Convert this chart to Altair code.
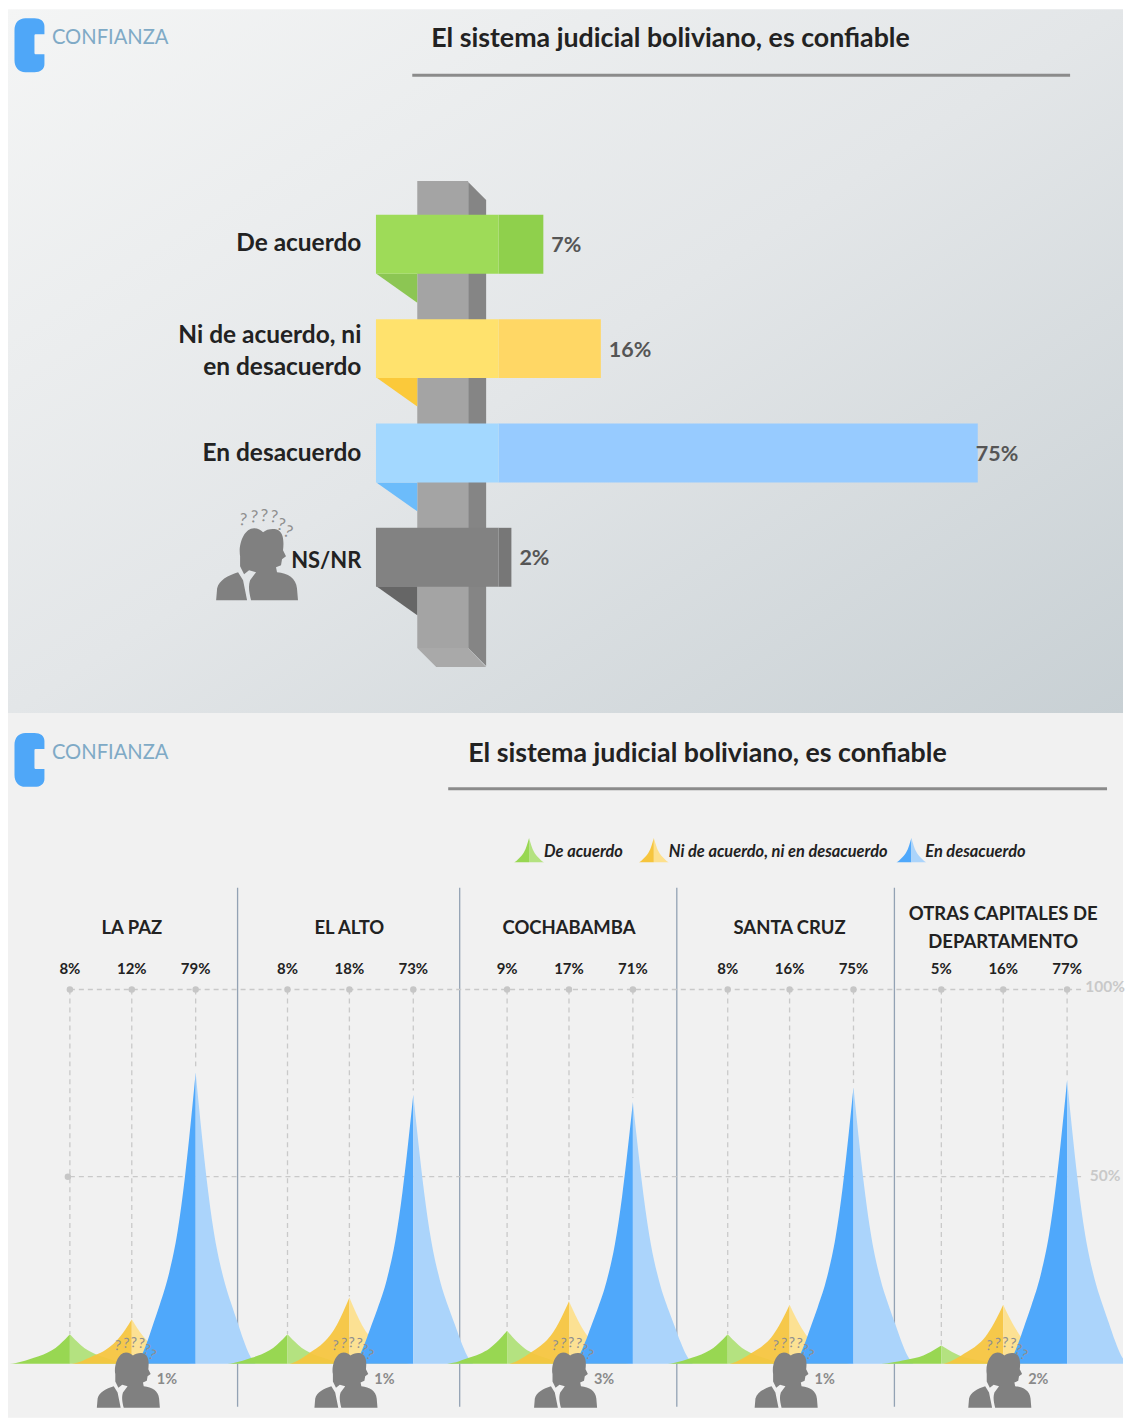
import altair as alt
import pandas as pd

# ---------- values ----------
categories = ["De acuerdo", "Ni de acuerdo, ni\nen desacuerdo", "En desacuerdo", "NS/NR"]
national = [7, 16, 75, 2]
cities = ["LA PAZ", "EL ALTO", "COCHABAMBA", "SANTA CRUZ", "OTRAS CAPITALES DE\nDEPARTAMENTO"]
agree = [8, 8, 9, 8, 5]
neutral = [12, 18, 17, 16, 16]
disagree = [79, 73, 71, 75, 77]
no_answer = [1, 1, 3, 1, 2]
title_text = "El sistema judicial boliviano, es confiable"
legend_names = ["De acuerdo", "Ni de acuerdo, ni en desacuerdo", "En desacuerdo"]

# ---------- layout & style ----------
W, H1, H2 = 1117, 705, 706
FONT = "Lato"
light_top = ["#9edb58", "#ffe26d", "#a3d8ff", "#828282"]
dark_top = ["#8fd04c", "#ffd765", "#97cbff", "#777777"]
tri_top = ["#8cc653", "#fbc93a", "#6cbcfb", "#666666"]
spike_dark = ["#98d752", "#f6c53d", "#4fa8fb"]
spike_light = ["#b4e280", "#fde08c", "#abd4fb"]
spike_opacity = [1, 0.93, 1]
city_centres = [124, 342, 562, 783, 997]
peak_shift = [-62, 0, 64]
dividers = [230, 452.5, 670, 888]
label_gap = [8, 8, -2, 8]
label_dy = [0, -13, 1, 4]
label_size = [24.5, 24.5, 24.5, 22]
# shape of a peak: distance from the tip (share of half-width) -> share of the peak height
prof_d = [0, 0.055, 0.11, 0.18, 0.30, 0.44, 0.60, 0.70, 0.80, 0.90, 1.0]
prof_h = [0.985, 0.87, 0.76, 0.63, 0.45, 0.31, 0.20, 0.14, 0.08, 0.03, 0]
HALF = 60

LOGO = ("M11,0 L20,0 C26,0 30,3 30,8 L30,16 L21,16 C20,16 20,17 20,18 L20,34 C20,35 20,36 21,36 "
        "L30,36 L30,46 C30,51 26,54 20,54 L11,54 C4,54 0,49 0,42 L0,12 C0,5 4,0 11,0 Z")
PERSON = ("M24,-44 C22,-56 28,-72 38,-72 C42,-72 45,-70 47,-68 C50,-71 56,-72 60,-71 C68,-69 68,-58 67,-50 "
          "L70,-44 L66,-41 L65,-35 L60,-33 L61,-28 C72,-27 80,-22 81,-12 L82,0 L35,0 C33,-8 32,-14 34,-20 "
          "L40,-28 L33,-30 L28,-26 L24,-34 Z M0,0 L1,-12 C3,-20 12,-25 22,-28 L27,-20 L31,0 Z")
Q_MARKS = pd.DataFrame({"q": ["?"] * 6,
                        "dx": [27, 38, 48, 58, 65, 72],
                        "dy": [-80, -83, -84, -83, -75, -68],
                        "a": [8, 6, 4, 8, 16, 24]})


def shape(path, x, y, color, scale=1.0, **kw):
    return alt.Chart(pd.DataFrame({"k": [0]})).mark_point(
        shape=path, size=(2 * scale) ** 2, filled=True, fill=color, stroke=None, opacity=1, **kw
    ).encode(x=alt.value(x), y=alt.value(y))


def txt(x, y, s, size, color="#222222", weight="bold", align="left", style="normal"):
    return alt.Chart(pd.DataFrame({"t": [s]})).mark_text(
        font=FONT, fontSize=size, fontWeight=weight, fontStyle=style, color=color, align=align,
        baseline="middle"
    ).encode(x=alt.value(x), y=alt.value(y), text="t:N")


def rule(x1, x2, y, color, width):
    return alt.Chart(pd.DataFrame({"k": [0]})).mark_rule(color=color, strokeWidth=width).encode(
        x=alt.value(x1), x2=alt.value(x2), y=alt.value(y))


def header(tx, ty, rx1, rx2, ry, ly, ty_logo):
    return [
        shape(LOGO, 6.5, ty_logo, "#4fa7f8"),
        txt(44, ly, "CONFIANZA", 20.2, "#7faac6", "normal"),
        txt(tx, ty, title_text, 26.8),
        rule(rx1, rx2, ry, "#8b8b8b", 3),
    ]


def person(x, y, scale, qsize):
    qs = Q_MARKS.copy()
    qs["px"] = x + qs["dx"] * scale
    qs["py"] = y + qs["dy"] * scale
    return [
        shape(PERSON, x, y, "#808080", scale),
        alt.Chart(qs).mark_text(font=FONT, fontSize=qsize, color="#8f8f8f", fontWeight="normal").encode(
            x=alt.X("px:Q", scale=None), y=alt.Y("py:Q", scale=None),
            angle=alt.Angle("a:Q", scale=None), text="q:N"),
    ]


# ---------- top panel ----------
PX = 6.4
ZERO = 491.5
x_top = alt.Scale(domain=[-ZERO / PX, (W - ZERO) / PX], nice=False, zero=False)
y_top = alt.Scale(type="band", domain=categories, range=[183.25, 601.25], paddingInner=0.435, paddingOuter=0.2175)
bg = alt.Chart(pd.DataFrame({"k": [0]})).mark_rect(
    fill=alt.LinearGradient(gradient="linear", x1=0, y1=0, x2=1, y2=1,
                            stops=[alt.GradientStop(offset=0, color="#f4f5f5"),
                                   alt.GradientStop(offset=0.5, color="#e3e6e8"),
                                   alt.GradientStop(offset=1, color="#c8d0d4")])
).encode(x=alt.value(0), x2=alt.value(W), y=alt.value(0), y2=alt.value(H1))

top_layers = [bg] + header(424, 30, 405, 1064, 66, 29, 9)
top_layers += [
    shape("M461,173 L479,191 L479,658 L461,640 Z", 0, 0, "#858585"),
    shape("M410,172 L461,172 L461,640 L410,640 Z", 0, 0, "#a4a4a4"),
    shape("M410,640 L461,640 L479,659 L429,659 Z", 0, 0, "#a9a9a9"),
]
for i, yb in enumerate([265, 369, 474, 578]):
    top_layers.append(shape(f"M369,{yb} L410,{yb} L410,{yb + 29} Z", 0, 0, tri_top[i]))

df_top = pd.DataFrame({"cat": categories, "v": national, "start": -19.2, "zero": 0.0,
                       "light": light_top, "dark": dark_top, "gap": label_gap})
df_top["lx"] = df_top["v"] + df_top["gap"] / PX
df_top["lab"] = df_top["v"].astype(str) + "%"
Yt = alt.Y("cat:N", scale=y_top, axis=None, sort=None)
top_layers += [
    alt.Chart(df_top).mark_bar().encode(x=alt.X("v:Q", scale=x_top, axis=None), x2="zero:Q", y=Yt,
                                        color=alt.Color("dark:N", scale=None)),
    alt.Chart(df_top).mark_bar().encode(x=alt.X("start:Q", scale=x_top, axis=None), x2="zero:Q", y=Yt,
                                        color=alt.Color("light:N", scale=None)),
    alt.Chart(df_top).mark_text(font=FONT, fontSize=21.5, fontWeight="bold", color="#555555", align="left",
                                dy=2).encode(
        x=alt.X("lx:Q", scale=x_top, axis=None), y=Yt, text="lab:N"),
]
for i, c in enumerate(categories):
    top_layers.append(
        alt.Chart(df_top[df_top["cat"] == c]).mark_text(
            font=FONT, fontSize=label_size[i], fontWeight="bold", color="#222222", align="right",
            lineBreak="\n", lineHeight=32, dy=label_dy[i]
        ).encode(x=alt.value(354), y=Yt, text="cat:N"))
top_layers += person(208.5, 592, 1.0, 17)

top = alt.layer(*top_layers).properties(width=W, height=H1)

# ---------- bottom panel ----------
BASE = 652
PY = 3.75
x_bot = alt.Scale(domain=[0, W], nice=False, zero=False)
y_bot = alt.Scale(domain=[-(H2 - BASE) / PY, BASE / PY], nice=False, zero=False)
Xb = lambda f: alt.X(f, scale=x_bot, axis=None)
Yb = lambda f: alt.Y(f, scale=y_bot, axis=None, stack=None)


def spike(cx, value, half, color_l, color_r, opacity=1.0, base=0.0):
    layers = []
    for sign, col in [(-1, color_l), (1, color_r)]:
        d = pd.DataFrame({"px": [cx + sign * half * a for a in prof_d],
                          "h": [base + value * b for b in prof_h],
                          "b": [base] * len(prof_d)})
        layers.append(alt.Chart(d).mark_area(interpolate="monotone", color=col, opacity=opacity,
                                             clip=True).encode(
            x=Xb("px:Q"), y=Yb("h:Q"), y2="b:Q"))
    return layers


bg2 = alt.Chart(pd.DataFrame({"k": [0]})).mark_rect(fill="#f1f1f1").encode(
    x=alt.value(0), x2=alt.value(W), y=alt.value(0), y2=alt.value(H2))
bot_layers = [bg2] + header(461, 41, 441, 1101, 76, 40, 20)

for xd in dividers:
    d = pd.DataFrame({"x": [xd]})
    bot_layers.append(alt.Chart(d).mark_rule(color="#93a2b4", strokeWidth=1.3).encode(
        x=Xb("x:Q"), y=alt.value(175), y2=alt.value(695)))

rows = []
for c, centre in enumerate(city_centres):
    for k, vals in enumerate([agree, neutral, disagree]):
        rows.append({"px": centre + peak_shift[k], "v": vals[c], "top": 100, "lab": f"{vals[c]}%"})
df_peaks = pd.DataFrame(rows)

bot_layers += [
    alt.Chart(pd.DataFrame({"g": [100, 50]})).mark_rule(color="#c9c9c9", strokeDash=[5, 4], strokeWidth=1.3).encode(
        x=alt.value(62), x2=alt.value(1077), y=Yb("g:Q")),
    alt.Chart(df_peaks).mark_rule(color="#c9c9c9", strokeDash=[5, 4], strokeWidth=1.3).encode(
        x=Xb("px:Q"), y=Yb("top:Q"), y2="v:Q"),
    alt.Chart(df_peaks).mark_circle(size=42, color="#c6c6c6", opacity=1).encode(x=Xb("px:Q"), y=Yb("top:Q")),
    alt.Chart(pd.DataFrame({"px": [60], "g": [50]})).mark_circle(size=42, color="#c6c6c6", opacity=1).encode(
        x=Xb("px:Q"), y=Yb("g:Q")),
    alt.Chart(df_peaks).mark_text(font=FONT, fontSize=15, fontWeight="bold", color="#222222", dy=-21).encode(
        x=Xb("px:Q"), y=Yb("top:Q"), text="lab:N"),
    txt(1099, 274, "100%", 15.5, "#c9c9c9", align="center"),
    txt(1099, 464, "50%", 15.5, "#c9c9c9", align="center"),
]

for c, centre in enumerate(city_centres):
    for k, vals in enumerate([agree, neutral, disagree]):
        bot_layers += spike(centre + peak_shift[k], vals[c], HALF, spike_dark[k], spike_light[k], spike_opacity[k])

for c, centre in enumerate(city_centres):
    lines = cities[c].split("\n")
    ys = [215] if len(lines) == 1 else [201, 229]
    for line, yy in zip(lines, ys):
        bot_layers.append(txt(centre, yy, line, 18.5, align="center"))
    bot_layers += person(centre - 35, 696, 0.77, 14)
    bot_layers.append(txt(centre + 25, 668, f"{no_answer[c]}%", 14.5, "#8a8a8a", align="left"))

# legend
for k, (peak, tx) in enumerate(zip([522, 647, 905], [537, 662, 919])):
    bot_layers += spike(peak, 6.6, 15, spike_dark[k], spike_light[k], base=134.0)
    bot_layers.append(txt(tx, 139, legend_names[k], 16.4, "#222222", align="left", style="italic"))

bottom = alt.layer(*bot_layers).properties(width=W, height=H2)

chart = alt.vconcat(top, bottom, spacing=0, bounds="flush").properties(padding=0).configure_view(
    stroke=None).configure_concat(spacing=0)

chart.save("out.html", embed_options={"renderer": "svg", "actions": False})
